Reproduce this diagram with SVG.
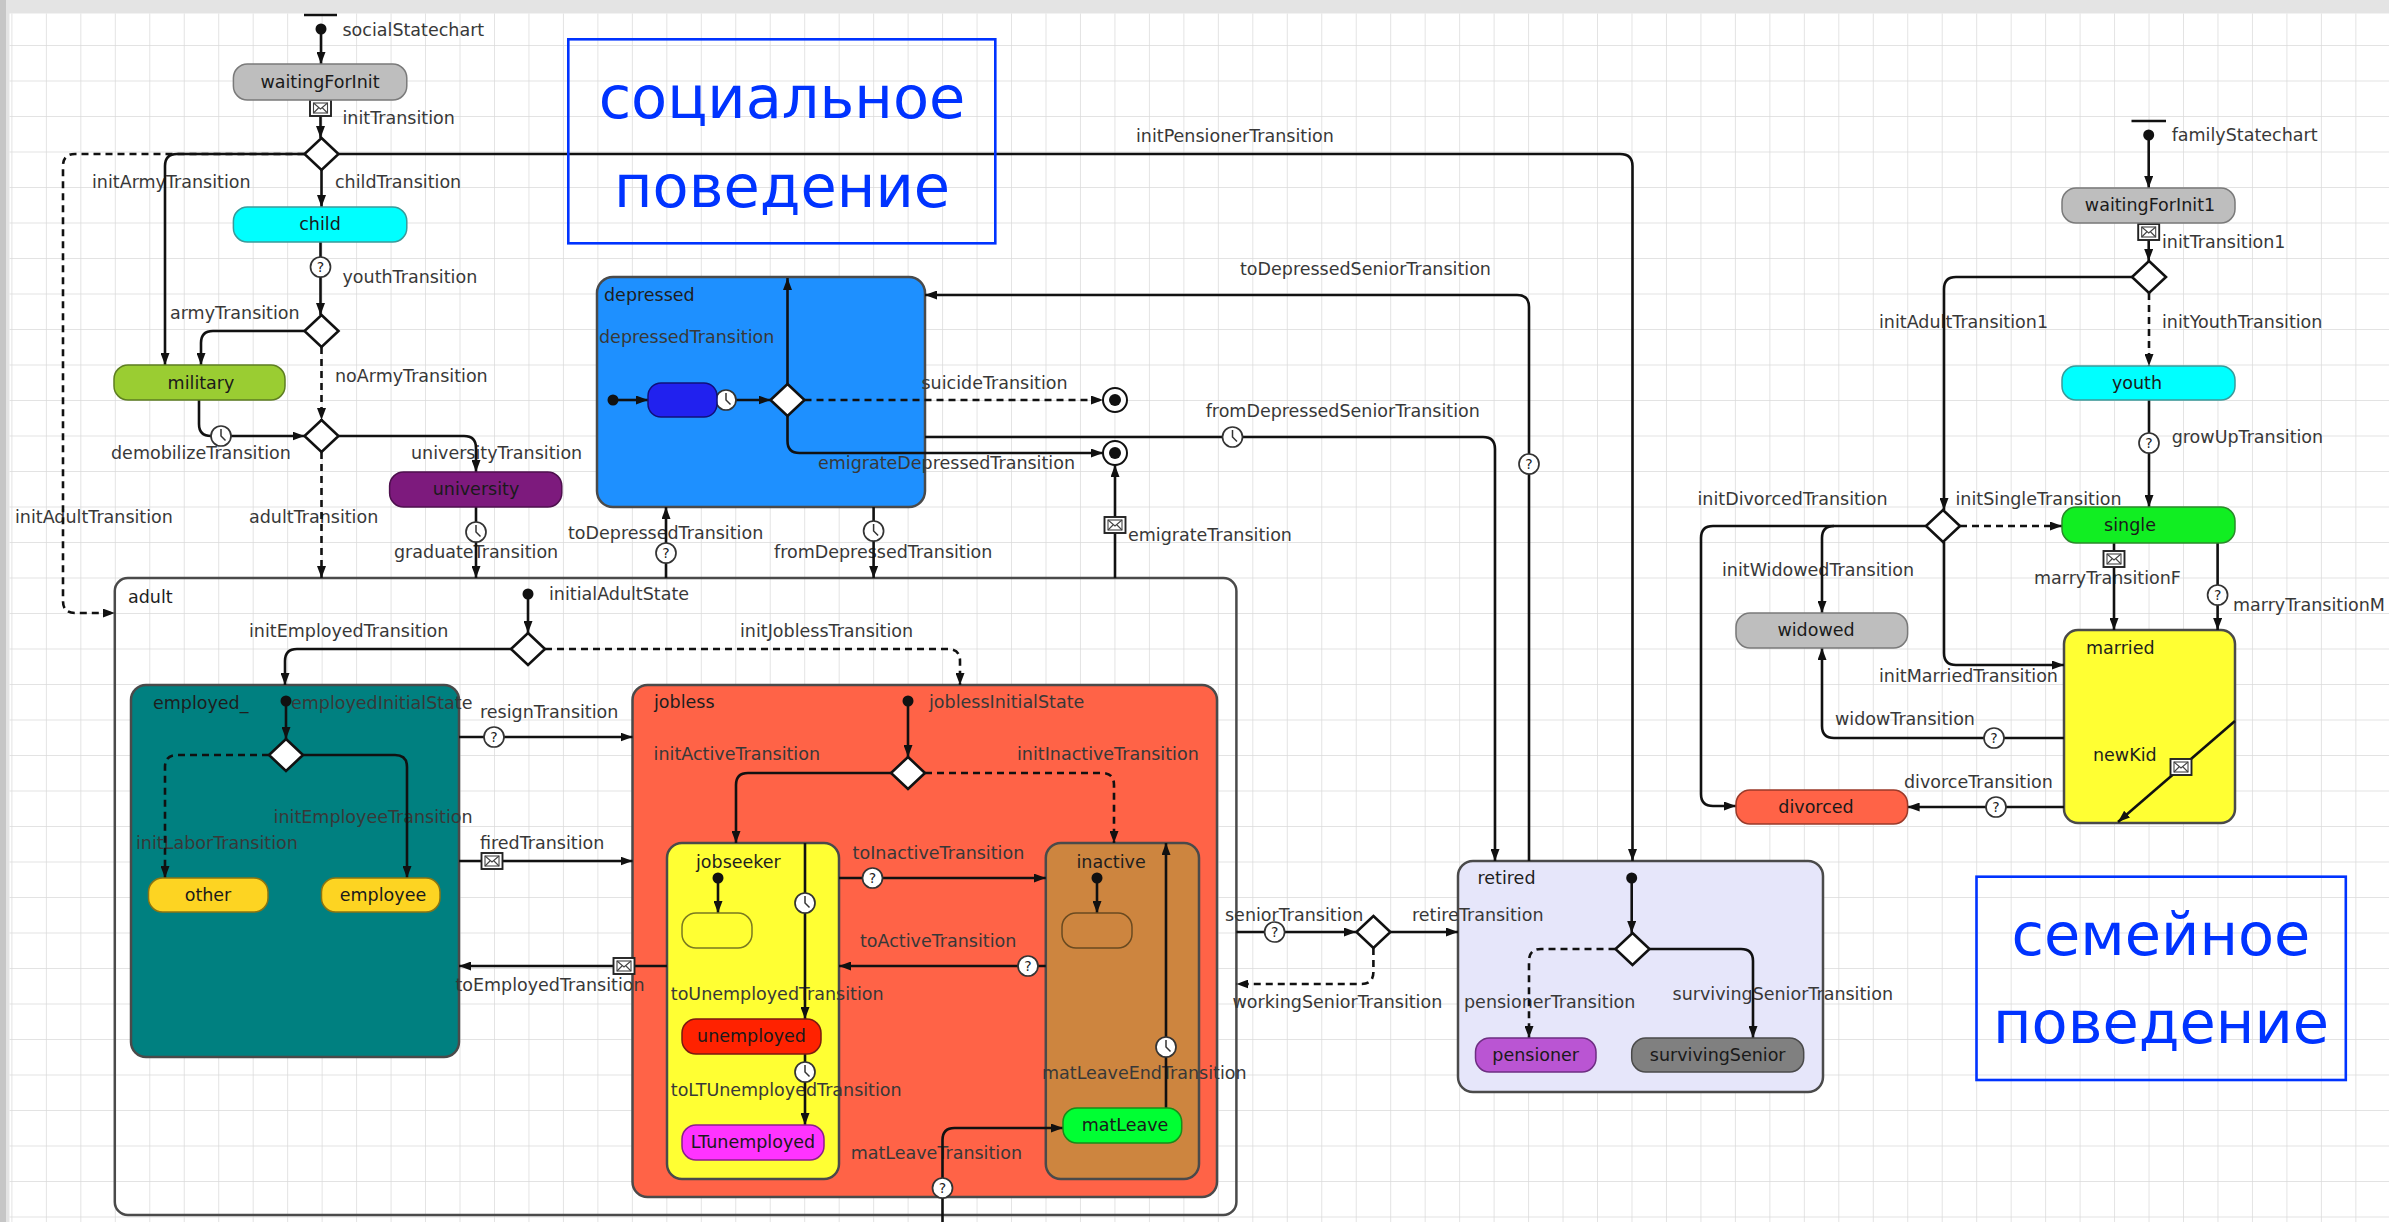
<svg xmlns="http://www.w3.org/2000/svg" width="2389" height="1222" viewBox="0 0 2389 1222">
<defs>
<style>
.lbl{font-family:"DejaVu Sans","Liberation Sans",sans-serif;font-size:17.5px;fill:#383838}
.ct{font-family:"DejaVu Sans","Liberation Sans",sans-serif;font-size:17.5px;fill:#1e1e1e}
.nt{font-family:"DejaVu Sans","Liberation Sans",sans-serif;font-size:17.5px;fill:#1a1a1a;text-anchor:middle}
.big{font-family:"DejaVu Sans","Liberation Sans",sans-serif;font-size:59px;fill:#0033ff;text-anchor:middle}
.box{fill:none;stroke:#0033ff;stroke-width:2.6}
.c{fill:none;stroke:#111;stroke-width:2.6;marker-end:url(#ah)}
.n{fill:none;stroke:#111;stroke-width:2.6}
.d{stroke-dasharray:7 5}
.dia{fill:#fff;stroke:#111;stroke-width:2.6}
.qc{fill:#fff;stroke:#333;stroke-width:1.7}
.qt{font-family:"DejaVu Sans","Liberation Sans",sans-serif;font-size:14px;fill:#222;text-anchor:middle}
.dot{fill:#111}
.cont{stroke:#4a4a4a;stroke-width:2.5}
.leaf{stroke-width:1.5}
</style>
<pattern id="grid" x="11.4" y="9.5" width="34.47" height="35.5" patternUnits="userSpaceOnUse">
<path d="M0,0 V35.5 M0,0 H34.47" stroke="#dadada" stroke-width="1.5" fill="none"/>
</pattern>
<marker id="ah" markerUnits="userSpaceOnUse" markerWidth="12" markerHeight="9" viewBox="0 0 12 9" refX="12" refY="4.5" orient="auto">
<path d="M0,0 L12,4.5 L0,9 z" fill="#111"/>
</marker>
<g id="clk"><circle r="10" fill="#fff" stroke="#333" stroke-width="1.7"/><path d="M0,-7 V0 L4.5,4.5" fill="none" stroke="#333" stroke-width="1.5"/></g>
<g id="env"><rect x="-10.5" y="-8" width="21" height="16" fill="#fff" stroke="#222" stroke-width="1.9"/><rect x="-7" y="-5" width="14" height="10" fill="none" stroke="#444" stroke-width="1.1"/><path d="M-7,-5 L0,1 L7,-5 M-7,5 L-2,0 M7,5 L2,0" fill="none" stroke="#444" stroke-width="1.1"/></g>
</defs>

<rect width="2389" height="1222" fill="#e4e4e4"/>
<rect x="0" y="0" width="6" height="1222" fill="#c6c6c6"/>
<rect x="9.5" y="13.5" width="2380" height="1209" fill="#fff"/>
<rect x="9.5" y="13.5" width="2380" height="1209" fill="url(#grid)"/>

<!-- containers -->
<g id="adult"><rect class="cont" x="114.8" y="578" width="1121.6" height="637" rx="13" fill="none"/><text class="ct" x="128" y="603">adult</text></g>
<g id="depressed"><rect class="cont" x="597" y="277" width="328" height="230" rx="16" fill="#1e90ff"/><text class="ct" x="604" y="301">depressed</text></g>
<g id="employed_"><rect class="cont" x="131" y="685" width="328" height="372" rx="15" fill="#008080"/><text class="ct" x="153" y="709">employed_</text></g>
<g id="jobless"><rect class="cont" x="632.5" y="685" width="584.5" height="512" rx="15" fill="#ff6347"/><text class="ct" x="654" y="708">jobless</text></g>
<g id="jobseeker"><rect class="cont" x="667" y="843" width="172" height="336" rx="15" fill="#ffff33"/><text class="ct" x="696" y="868">jobseeker</text></g>
<g id="inactive"><rect class="cont" x="1045.8" y="843" width="153.2" height="336" rx="15" fill="#cd853f"/><text class="ct" x="1076.5" y="868">inactive</text></g>
<g id="retired"><rect class="cont" x="1458" y="861" width="365" height="231" rx="15" fill="#e6e6fa"/><text class="ct" x="1477.5" y="884">retired</text></g>
<g id="married"><rect class="cont" x="2064" y="630" width="171" height="193" rx="14" fill="#ffff33"/><text class="ct" x="2086" y="654">married</text></g>

<!-- transition labels -->
<g id="labels">
<text class="lbl" x="342.5" y="36">socialStatechart</text>
<text class="lbl" x="342.5" y="124">initTransition</text>
<text class="lbl" x="1136" y="142">initPensionerTransition</text>
<text class="lbl" x="92" y="188">initArmyTransition</text>
<text class="lbl" x="335" y="188">childTransition</text>
<text class="lbl" x="342.5" y="283">youthTransition</text>
<text class="lbl" x="170" y="319">armyTransition</text>
<text class="lbl" x="335" y="382">noArmyTransition</text>
<text class="lbl" x="111" y="459">demobilizeTransition</text>
<text class="lbl" x="411" y="459">universityTransition</text>
<text class="lbl" x="15" y="523">initAdultTransition</text>
<text class="lbl" x="249" y="523">adultTransition</text>
<text class="lbl" x="394" y="558">graduateTransition</text>
<text class="lbl" x="568" y="539">toDepressedTransition</text>
<text class="lbl" x="774" y="558">fromDepressedTransition</text>
<text class="lbl" x="1128" y="541">emigrateTransition</text>
<text class="lbl" x="818" y="469">emigrateDepressedTransition</text>
<text class="lbl" x="921.5" y="389">suicideTransition</text>
<text class="lbl" x="599" y="343">depressedTransition</text>
<text class="lbl" x="1240" y="275">toDepressedSeniorTransition</text>
<text class="lbl" x="1205.7" y="417">fromDepressedSeniorTransition</text>
<text class="lbl" x="549" y="600">initialAdultState</text>
<text class="lbl" x="249" y="637">initEmployedTransition</text>
<text class="lbl" x="740" y="637">initJoblessTransition</text>
<text class="lbl" x="291" y="709">employedInitialState</text>
<text class="lbl" x="480" y="718">resignTransition</text>
<text class="lbl" x="273.6" y="823">initEmployeeTransition</text>
<text class="lbl" x="136" y="849">initLaborTransition</text>
<text class="lbl" x="480" y="849">firedTransition</text>
<text class="lbl" x="455.4" y="991">toEmployedTransition</text>
<text class="lbl" x="929" y="708">joblessInitialState</text>
<text class="lbl" x="653.6" y="760">initActiveTransition</text>
<text class="lbl" x="1017" y="760">initInactiveTransition</text>
<text class="lbl" x="852.6" y="859">toInactiveTransition</text>
<text class="lbl" x="860" y="947">toActiveTransition</text>
<text class="lbl" x="670.8" y="1000">toUnemployedTransition</text>
<text class="lbl" x="670.8" y="1096">toLTUnemployedTransition</text>
<text class="lbl" x="1042" y="1079">matLeaveEndTransition</text>
<text class="lbl" x="850.7" y="1159">matLeaveTransition</text>
<text class="lbl" x="1225" y="921">seniorTransition</text>
<text class="lbl" x="1412" y="921">retireTransition</text>
<text class="lbl" x="1232.5" y="1008">workingSeniorTransition</text>
<text class="lbl" x="1464" y="1008">pensionerTransition</text>
<text class="lbl" x="1672.6" y="1000">survivingSeniorTransition</text>
<text class="lbl" x="2171.7" y="141">familyStatechart</text>
<text class="lbl" x="2162" y="248">initTransition1</text>
<text class="lbl" x="1879" y="328">initAdultTransition1</text>
<text class="lbl" x="2162" y="328">initYouthTransition</text>
<text class="lbl" x="2171.7" y="443">growUpTransition</text>
<text class="lbl" x="1697.5" y="505">initDivorcedTransition</text>
<text class="lbl" x="1955.5" y="505">initSingleTransition</text>
<text class="lbl" x="1722" y="576">initWidowedTransition</text>
<text class="lbl" x="2034" y="584">marryTransitionF</text>
<text class="lbl" x="2233" y="611">marryTransitionM</text>
<text class="lbl" x="1879" y="682">initMarriedTransition</text>
<text class="lbl" x="1835" y="725">widowTransition</text>
<text class="lbl" x="1904" y="788">divorceTransition</text>
<text class="ct" x="2093" y="761">newKid</text>
</g>

<!-- connectors -->
<g id="connectors">
<path class="n" d="M304,15 H337" stroke-width="3"/>
<circle class="dot" cx="321" cy="29" r="5.5"/>
<path class="c" d="M321,34 V64"/>
<path class="c" d="M320.5,100 V138"/>
<use href="#env" x="320.5" y="108"/>
<path class="c d" d="M304.5,154 H75 Q63,154 63,166 V601 Q63,613 75,613 H114.8"/>
<path class="c" d="M304.5,154 H177 Q165,154 165,166 V365"/>
<path class="c" d="M338.5,154 H1620 Q1632.5,154 1632.5,166 V861"/>
<path class="c" d="M321.5,170 V207"/>
<path class="c" d="M320.5,242 V315"/>
<circle class="qc" cx="320.5" cy="267" r="10"/><text class="qt" x="320.5" y="272">?</text>
<path class="c" d="M304.5,331 H213 Q201,331 201,343 V365"/>
<path class="c d" d="M321.5,347 V420"/>
<path class="c" d="M199,400 V424 Q199,436 211,436 H304.5"/>
<use href="#clk" x="221" y="436"/>
<path class="c" d="M338.5,436 H464 Q476,436 476,448 V472"/>
<path class="c d" d="M321.5,452 V578"/>
<path class="c" d="M476,507 V578"/>
<use href="#clk" x="476" y="532"/>
<circle class="dot" cx="528" cy="594" r="5.5"/>
<path class="c" d="M528,599 V633"/>
<path class="c" d="M511,649 H297 Q285,649 285,661 V685"/>
<path class="c d" d="M545,649 H948 Q960,649 960,661 V685"/>
<circle class="dot" cx="286" cy="701" r="5.5"/>
<path class="c" d="M286,706 V739"/>
<path class="c d" d="M269,755 H177 Q165,755 165,767 V878"/>
<path class="c" d="M303,755 H395 Q407,755 407,767 V878"/>
<path class="c" d="M459,737 H632.5"/>
<circle class="qc" cx="494" cy="737" r="10"/><text class="qt" x="494" y="742">?</text>
<path class="c" d="M459,861 H632.5"/>
<use href="#env" x="492" y="861"/>
<path class="c" d="M667,966 H459"/>
<use href="#env" x="624" y="966"/>
<circle class="dot" cx="908" cy="701" r="5.5"/>
<path class="c" d="M908,706 V757"/>
<path class="c" d="M891,773 H748 Q736,773 736,785 V843"/>
<path class="c d" d="M925,773 H1102 Q1114,773 1114,785 V843"/>
<circle class="dot" cx="718" cy="878" r="5.5"/>
<path class="c" d="M718,883 V913"/>
<path class="c" d="M805,843 V1019"/>
<use href="#clk" x="805" y="903"/>
<path class="c" d="M805,1054 V1125"/>
<use href="#clk" x="805" y="1072"/>
<path class="c" d="M839,878 H1045.8"/>
<circle class="qc" cx="872.5" cy="878" r="10"/><text class="qt" x="872.5" y="883">?</text>
<path class="c" d="M1045.8,966 H839"/>
<circle class="qc" cx="1028" cy="966" r="10"/><text class="qt" x="1028" y="971">?</text>
<circle class="dot" cx="1097" cy="878" r="5.5"/>
<path class="c" d="M1097,883 V913"/>
<path class="c" d="M1166,1108 V843"/>
<use href="#clk" x="1166" y="1047"/>
<path class="c" d="M942.5,1222 V1140 Q942.5,1128 954.5,1128 H1063"/>
<circle class="qc" cx="942.5" cy="1188" r="10"/><text class="qt" x="942.5" y="1193">?</text>
<circle class="dot" cx="613" cy="400" r="5.5"/>
<path class="c" d="M618,400 H648"/>
<path class="c" d="M717,400 H770.5"/>
<use href="#clk" x="726" y="400"/>
<path class="c" d="M787.5,384 V278"/>
<path class="c d" d="M804.5,400 H1103"/>
<path class="c" d="M787.5,416 V441 Q787.5,453 799.5,453 H1103"/>
<path class="c" d="M666,578 V507"/>
<circle class="qc" cx="666" cy="553" r="10"/><text class="qt" x="666" y="558">?</text>
<path class="c" d="M873.6,507 V578"/>
<use href="#clk" x="873.6" y="531"/>
<path class="c" d="M1115,578 V465"/>
<use href="#env" x="1115" y="525"/>
<path class="c" d="M925,437 H1483 Q1495,437 1495,449 V861"/>
<use href="#clk" x="1232.5" y="437"/>
<path class="c" d="M1529,861 V307 Q1529,295 1517,295 H925"/>
<circle class="qc" cx="1529" cy="464" r="10"/><text class="qt" x="1529" y="469">?</text>
<path class="c" d="M1236.4,932 H1356"/>
<circle class="qc" cx="1274.6" cy="932" r="10"/><text class="qt" x="1274.6" y="937">?</text>
<path class="c" d="M1390.4,932 H1458"/>
<path class="c d" d="M1373.4,948 V972 Q1373.4,984 1361.4,984 H1236.4"/>
<circle class="dot" cx="1631.7" cy="878" r="5.5"/>
<path class="c" d="M1631.7,883 V933"/>
<path class="c d" d="M1615.5,949 H1541 Q1529,949 1529,961 V1038"/>
<path class="c" d="M1649.5,949 H1741 Q1753,949 1753,961 V1038"/>
<path class="n" d="M2131.5,121 H2166" stroke-width="3"/>
<circle class="dot" cx="2148.7" cy="135" r="5.5"/>
<path class="c" d="M2148.7,140 V188"/>
<path class="c" d="M2148.7,223 V261"/>
<use href="#env" x="2148.7" y="232"/>
<path class="c" d="M2132,277 H1956 Q1944,277 1944,289 V510"/>
<path class="c d" d="M2149,293 V366"/>
<path class="c" d="M2149,400 V507"/>
<circle class="qc" cx="2149" cy="443" r="10"/><text class="qt" x="2149" y="448">?</text>
<path class="c d" d="M1960,526 H2062"/>
<path class="c" d="M1926,526 H1713 Q1701,526 1701,538 V794 Q1701,806 1713,806 H1736"/>
<path class="c" d="M1834,526 Q1822,526 1822,538 V613"/>
<path class="c" d="M1944,542 V653 Q1944,665 1956,665 H2064"/>
<path class="c" d="M2114,543 V630"/>
<use href="#env" x="2114" y="559"/>
<path class="c" d="M2217.6,543 V630"/>
<circle class="qc" cx="2217.6" cy="595" r="10"/><text class="qt" x="2217.6" y="600">?</text>
<path class="c" d="M2064,738 H1834 Q1822,738 1822,726 V648"/>
<circle class="qc" cx="1994" cy="738" r="10"/><text class="qt" x="1994" y="743">?</text>
<path class="c" d="M2064,807 H1907.6"/>
<circle class="qc" cx="1996" cy="807" r="10"/><text class="qt" x="1996" y="812">?</text>
<path class="c" d="M2235,721 L2118,822"/>
<use href="#env" x="2181" y="767"/>
</g>

<!-- pseudo-state nodes -->
<g id="diamonds">
<polygon id="branch1" class="dia" points="321.5,138 338.5,154 321.5,170 304.5,154"/>
<polygon id="branch2" class="dia" points="321.5,315 338.5,331 321.5,347 304.5,331"/>
<polygon id="branch3" class="dia" points="321.5,420 338.5,436 321.5,452 304.5,436"/>
<polygon id="branch4" class="dia" points="528,633 545,649 528,665 511,649"/>
<polygon id="branch5" class="dia" points="286,739 303,755 286,771 269,755"/>
<polygon id="branch6" class="dia" points="787.5,384 804.5,400 787.5,416 770.5,400"/>
<polygon id="branch7" class="dia" points="908,757 925,773 908,789 891,773"/>
<polygon id="branch8" class="dia" points="1373.4,916 1390.4,932 1373.4,948 1356.4,932"/>
<polygon id="branch9" class="dia" points="1632.5,933 1649.5,949 1632.5,965 1615.5,949"/>
<polygon id="branch10" class="dia" points="2149,261 2166,277 2149,293 2132,277"/>
<polygon id="branch11" class="dia" points="1943,510 1960,526 1943,542 1926,526"/>
</g>
<g id="final1"><circle cx="1115" cy="400" r="12" fill="#fff" stroke="#111" stroke-width="2"/><circle cx="1115" cy="400" r="6" fill="#111"/></g>
<g id="final2"><circle cx="1115" cy="453" r="12" fill="#fff" stroke="#111" stroke-width="2"/><circle cx="1115" cy="453" r="6" fill="#111"/></g>

<!-- leaf states -->
<g id="waitingForInit"><rect class="leaf" x="233.4" y="64" width="173.4" height="36" rx="14" fill="#bebebe" stroke="#7a7a7a"/><text class="nt" x="320" y="88">waitingForInit</text></g>
<g id="child"><rect class="leaf" x="233.4" y="207" width="173.4" height="35" rx="14" fill="#00ffff" stroke="#3a9a9a"/><text class="nt" x="320" y="230">child</text></g>
<g id="military"><rect class="leaf" x="114" y="365" width="171" height="35" rx="14" fill="#9acd32" stroke="#5e7e22"/><text class="nt" x="201" y="389">military</text></g>
<g id="university"><rect class="leaf" x="389.6" y="472" width="172.2" height="35" rx="14" fill="#7d1a7d" stroke="#4e104e"/><text class="nt" x="476" y="495">university</text></g>
<g id="depressedInner"><rect class="leaf" x="648" y="383" width="69" height="34" rx="13" fill="#2121ef" stroke="#10107a"/></g>
<g id="other"><rect class="leaf" x="148.5" y="878" width="119.5" height="34" rx="14" fill="#fdd422" stroke="#8a7412"/><text class="nt" x="208" y="901">other</text></g>
<g id="employee"><rect class="leaf" x="321.5" y="878" width="118.5" height="34" rx="14" fill="#fdd422" stroke="#8a7412"/><text class="nt" x="383" y="901">employee</text></g>
<g id="jobseekerInit"><rect class="leaf" x="682" y="913" width="70" height="35" rx="14" fill="#ffff33" stroke="#7a7a20"/></g>
<g id="unemployed"><rect class="leaf" x="682" y="1019" width="139" height="35" rx="14" fill="#ff2200" stroke="#7a1a10"/><text class="nt" x="751.5" y="1042">unemployed</text></g>
<g id="LTunemployed"><rect class="leaf" x="682" y="1125" width="142" height="35" rx="14" fill="#ff33ff" stroke="#8a208a"/><text class="nt" x="753" y="1148">LTunemployed</text></g>
<g id="inactiveInit"><rect class="leaf" x="1062" y="913" width="70" height="35" rx="14" fill="#cd853f" stroke="#6a4a20"/></g>
<g id="matLeave"><rect class="leaf" x="1063" y="1108" width="118.7" height="35" rx="14" fill="#00ff33" stroke="#1a8a1a"/><text class="nt" x="1125" y="1131">matLeave</text></g>
<g id="pensioner"><rect class="leaf" x="1475.5" y="1038" width="120.5" height="34" rx="14" fill="#ba55d3" stroke="#6e2e82"/><text class="nt" x="1535.7" y="1061">pensioner</text></g>
<g id="survivingSenior"><rect class="leaf" x="1631.7" y="1038" width="172" height="34" rx="14" fill="#808080" stroke="#4a4a4a"/><text class="nt" x="1717.7" y="1061">survivingSenior</text></g>
<g id="waitingForInit1"><rect class="leaf" x="2062" y="188" width="173" height="35" rx="14" fill="#bebebe" stroke="#7a7a7a"/><text class="nt" x="2150" y="211">waitingForInit1</text></g>
<g id="youth"><rect class="leaf" x="2062" y="366" width="173" height="34" rx="14" fill="#00ffff" stroke="#3a9a9a"/><text class="nt" x="2137" y="389">youth</text></g>
<g id="single"><rect class="leaf" x="2062" y="507" width="173" height="36" rx="14" fill="#11ee22" stroke="#2a8a2a"/><text class="nt" x="2130" y="531">single</text></g>
<g id="widowed"><rect class="leaf" x="1736" y="613" width="171.6" height="35" rx="14" fill="#bebebe" stroke="#7a7a7a"/><text class="nt" x="1816" y="636">widowed</text></g>
<g id="divorced"><rect class="leaf" x="1736" y="790" width="171.6" height="34" rx="14" fill="#ff6347" stroke="#9a3a2a"/><text class="nt" x="1816" y="813">divorced</text></g>

<!-- annotation boxes -->
<g id="note-social"><rect class="box" x="568.3" y="39.3" width="427" height="204"/><text class="big" x="782" y="118">социальное</text><text class="big" x="782" y="207">поведение</text></g>
<g id="note-family"><rect class="box" x="1976.5" y="876.7" width="369.3" height="203.3"/><text class="big" x="2161" y="955">семейное</text><text class="big" x="2161" y="1043">поведение</text></g>
</svg>
